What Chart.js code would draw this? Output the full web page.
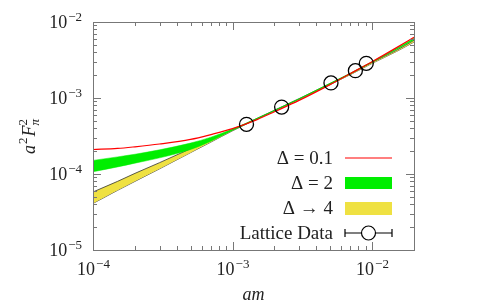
<!DOCTYPE html>
<html>
<head>
<meta charset="utf-8">
<script src="https://cdn.jsdelivr.net/npm/chart.js@4.4.1/dist/chart.umd.min.js"></script>
<style>
  html, body { margin: 0; padding: 0; background: #fff; }
  #wrap { width: 484px; height: 305px; }
</style>
</head>
<body>
<div id="wrap"><canvas id="fpiChart" width="484" height="305"></canvas></div>
<script>
// values
const mass      = [1e-4, 1.5e-4, 2e-4, 3e-4, 5e-4, 7e-4, 1e-3, 1.5e-3, 2e-3, 3e-3, 5e-3, 7e-3, 1e-2, 1.5e-2, 2e-2];
const redCurve  = [2.1e-4, 2.17e-4, 2.28e-4, 2.48e-4, 2.85e-4, 3.3e-4, 3.95e-4, 5.2e-4, 6.6e-4, 9.3e-4, 1.5e-3, 2.1e-3, 3.0e-3, 4.6e-3, 6.3e-3];
const greenHi   = [1.51e-4, 1.68e-4, 1.82e-4, 2.08e-4, 2.55e-4, 3.05e-4, 3.9e-4, 5.4e-4, 6.9e-4, 9.8e-4, 1.56e-3, 2.12e-3, 3.0e-3, 4.5e-3, 6.1e-3];
const greenLo   = [1.07e-4, 1.24e-4, 1.39e-4, 1.63e-4, 2.1e-4, 2.7e-4, 3.75e-4, 5.3e-4, 6.8e-4, 9.6e-4, 1.53e-3, 2.08e-3, 2.95e-3, 4.35e-3, 5.85e-3];
const yellowHi  = [5.8e-5, 8.0e-5, 1.02e-4, 1.41e-4, 2.15e-4, 2.84e-4, 3.8e-4, 5.4e-4, 6.9e-4, 9.8e-4, 1.55e-3, 2.1e-3, 2.95e-3, 4.25e-3, 5.75e-3];
const yellowLo  = [4.1e-5, 6.1e-5, 8.0e-5, 1.17e-4, 1.91e-4, 2.63e-4, 3.7e-4, 5.3e-4, 6.8e-4, 9.6e-4, 1.5e-3, 2.03e-3, 2.85e-3, 4.1e-3, 5.45e-3];
const latticeX  = [1.26e-3, 2.25e-3, 5.08e-3, 7.6e-3, 9.1e-3];
const latticeY  = [4.5e-4, 7.6e-4, 1.58e-3, 2.29e-3, 2.86e-3];
const xTicks    = [1e-4, 1e-3, 1e-2];
const yTicks    = [1e-5, 1e-4, 1e-3, 1e-2];
const legendLabels = ['\u0394 = 0.1', '\u0394 = 2', '\u0394 \u2192 4', 'Lattice Data'];

const SERIF = '"Liberation Serif", "DejaVu Serif", serif';
const RED = '#ff0000', GREEN = '#00ee00', YELLOW = '#efe142';

function pts(ys) { return mass.map((m, i) => ({ x: m, y: ys[i] })); }

function drawPow(ctx, x, y, exp, align) {
  // draws 10^exp ; y = baseline of the "10"
  ctx.font = '18px ' + SERIF;
  const base = '10';
  const bw = ctx.measureText(base).width;
  ctx.font = '13px ' + SERIF;
  const sup = '\u2212' + Math.abs(exp);
  const sw = ctx.measureText(sup).width;
  let x0 = align === 'right' ? x - bw - sw : x - (bw + sw) / 2;
  ctx.textAlign = 'left';
  ctx.textBaseline = 'alphabetic';
  ctx.font = '18px ' + SERIF;
  ctx.fillText(base, x0, y);
  ctx.font = '13px ' + SERIF;
  ctx.fillText(sup, x0 + bw + 1, y - 7);
}

const framePlugin = {
  id: 'frame',
  afterDraw(chart) {
    const ctx = chart.ctx;
    const a = chart.chartArea;
    const xs = chart.scales.x, ys = chart.scales.y;
    ctx.save();
    ctx.strokeStyle = '#777';
    ctx.lineWidth = 1;
    ctx.strokeRect(a.left + 0.5, a.top + 0.5, a.right - a.left, a.bottom - a.top);

    // x ticks, inside, bottom and top
    ctx.beginPath();
    for (let d = -4; d <= -2; d++) {
      for (let k = 1; k <= 9; k++) {
        const v = k * Math.pow(10, d);
        if (v > xs.max * 1.0001) continue;
        const px = Math.round(xs.getPixelForValue(v)) + 0.5;
        const len = k === 1 ? 8 : 4;
        ctx.moveTo(px, a.bottom); ctx.lineTo(px, a.bottom - len);
        ctx.moveTo(px, a.top); ctx.lineTo(px, a.top + len);
      }
    }
    for (let d = -5; d <= -2; d++) {
      for (let k = 1; k <= 9; k++) {
        const v = k * Math.pow(10, d);
        if (v > ys.max * 1.0001) continue;
        const py = Math.round(ys.getPixelForValue(v)) + 0.5;
        const len = k === 1 ? 8 : 4;
        ctx.moveTo(a.left, py); ctx.lineTo(a.left + len, py);
        ctx.moveTo(a.right, py); ctx.lineTo(a.right - len, py);
      }
    }
    ctx.stroke();

    // tick labels
    ctx.fillStyle = '#222';
    xTicks.forEach(v => drawPow(ctx, xs.getPixelForValue(v), a.bottom + 25, Math.round(Math.log10(v)), 'center'));
    yTicks.forEach(v => drawPow(ctx, a.left - 12, ys.getPixelForValue(v) + 6, Math.round(Math.log10(v)), 'right'));

    // axis titles
    ctx.font = 'italic 18px ' + SERIF;
    ctx.textAlign = 'center';
    ctx.fillText('am', (a.left + a.right) / 2, 300);

    ctx.save();
    ctx.translate(35, 136);
    ctx.rotate(-Math.PI / 2);
    ctx.textAlign = 'left';
    const big = 'italic 18px ' + SERIF, small = '13px ' + SERIF, smallIt = 'italic 13px ' + SERIF;
    ctx.font = big; const wa = ctx.measureText('a').width;
    ctx.font = small; const w2 = ctx.measureText('2').width;
    ctx.font = big; const wF = ctx.measureText('F').width;
    let x0 = -(wa + w2 + wF + w2 + 3) / 2;
    ctx.font = big; ctx.fillText('a', x0, 0); x0 += wa + 1;
    ctx.font = small; ctx.fillText('2', x0, -8); x0 += w2 + 1;
    ctx.font = big; ctx.fillText('F', x0, 0); x0 += wF;
    ctx.font = small; ctx.fillText('2', x0, -8);
    ctx.font = smallIt; ctx.fillText('\u03c0', x0, 4);
    ctx.restore();

    // legend
    const lx0 = 345, lx1 = 392, tx = 333;
    const rows = [158, 183, 208, 233];
    ctx.font = '19px ' + SERIF;
    ctx.textAlign = 'right';
    ctx.textBaseline = 'middle';
    ctx.fillStyle = '#222';
    legendLabels.forEach((t, i) => ctx.fillText(t, tx, rows[i] + 1));

    ctx.strokeStyle = RED; ctx.lineWidth = 1.2;
    ctx.beginPath(); ctx.moveTo(lx0, rows[0]); ctx.lineTo(lx1, rows[0]); ctx.stroke();
    ctx.fillStyle = GREEN; ctx.fillRect(lx0, rows[1] - 6, lx1 - lx0, 12);
    ctx.fillStyle = YELLOW; ctx.fillRect(lx0, rows[2] - 6, lx1 - lx0, 13);

    ctx.strokeStyle = '#000'; ctx.lineWidth = 1.2;
    ctx.beginPath();
    ctx.moveTo(lx0, rows[3]); ctx.lineTo(lx1, rows[3]);
    ctx.moveTo(lx0, rows[3] - 4); ctx.lineTo(lx0, rows[3] + 4);
    ctx.moveTo(lx1, rows[3] - 4); ctx.lineTo(lx1, rows[3] + 4);
    ctx.stroke();
    ctx.fillStyle = '#fff';
    ctx.beginPath(); ctx.arc(368.5, rows[3], 7, 0, Math.PI * 2); ctx.fill(); ctx.stroke();
    ctx.restore();
  }
};

let fpiCanvas = document.getElementById('fpiChart').getContext('2d');
let fpiChart = new Chart(fpiCanvas, {
  type: 'scatter',
  data: {
    datasets: [{
      label: 'Lattice Data',
      data: latticeX.map((x, i) => ({ x: x, y: latticeY[i] })),
      showLine: false,
      pointRadius: 7,
      pointBorderWidth: 1.3,
      pointBorderColor: '#000',
      pointBackgroundColor: 'rgba(0,0,0,0)'
    }, {
      label: 'Delta = 0.1',
      data: pts(redCurve),
      showLine: true,
      borderColor: RED,
      borderWidth: 1.2,
      pointRadius: 0,
      cubicInterpolationMode: 'monotone'
    }, {
      label: 'Delta = 2 hi',
      data: pts(greenHi),
      showLine: true,
      borderColor: GREEN,
      borderWidth: 0.5,
      backgroundColor: GREEN,
      fill: '+1',
      pointRadius: 0,
      cubicInterpolationMode: 'monotone'
    }, {
      label: 'Delta = 2 lo',
      data: pts(greenLo),
      showLine: true,
      borderColor: GREEN,
      borderWidth: 0.5,
      pointRadius: 0,
      cubicInterpolationMode: 'monotone'
    }, {
      label: 'Delta -> 4 hi',
      data: pts(yellowHi),
      showLine: true,
      borderColor: '#333',
      borderWidth: 0.8,
      backgroundColor: YELLOW,
      fill: '+1',
      pointRadius: 0,
      cubicInterpolationMode: 'monotone'
    }, {
      label: 'Delta -> 4 lo',
      data: pts(yellowLo),
      showLine: true,
      borderColor: '#333',
      borderWidth: 0.8,
      pointRadius: 0,
      cubicInterpolationMode: 'monotone'
    }]
  },
  options: {
    responsive: false,
    animation: false,
    layout: { padding: { left: 93, right: 70, top: 22, bottom: 55 } },
    scales: {
      x: { type: 'logarithmic', min: 1e-4, max: 2e-2, display: false },
      y: { type: 'logarithmic', min: 1e-5, max: 1e-2, display: false }
    },
    plugins: {
      legend: { display: false },
      tooltip: { enabled: false }
    }
  },
  plugins: [framePlugin]
});
</script>
</body>
</html>
